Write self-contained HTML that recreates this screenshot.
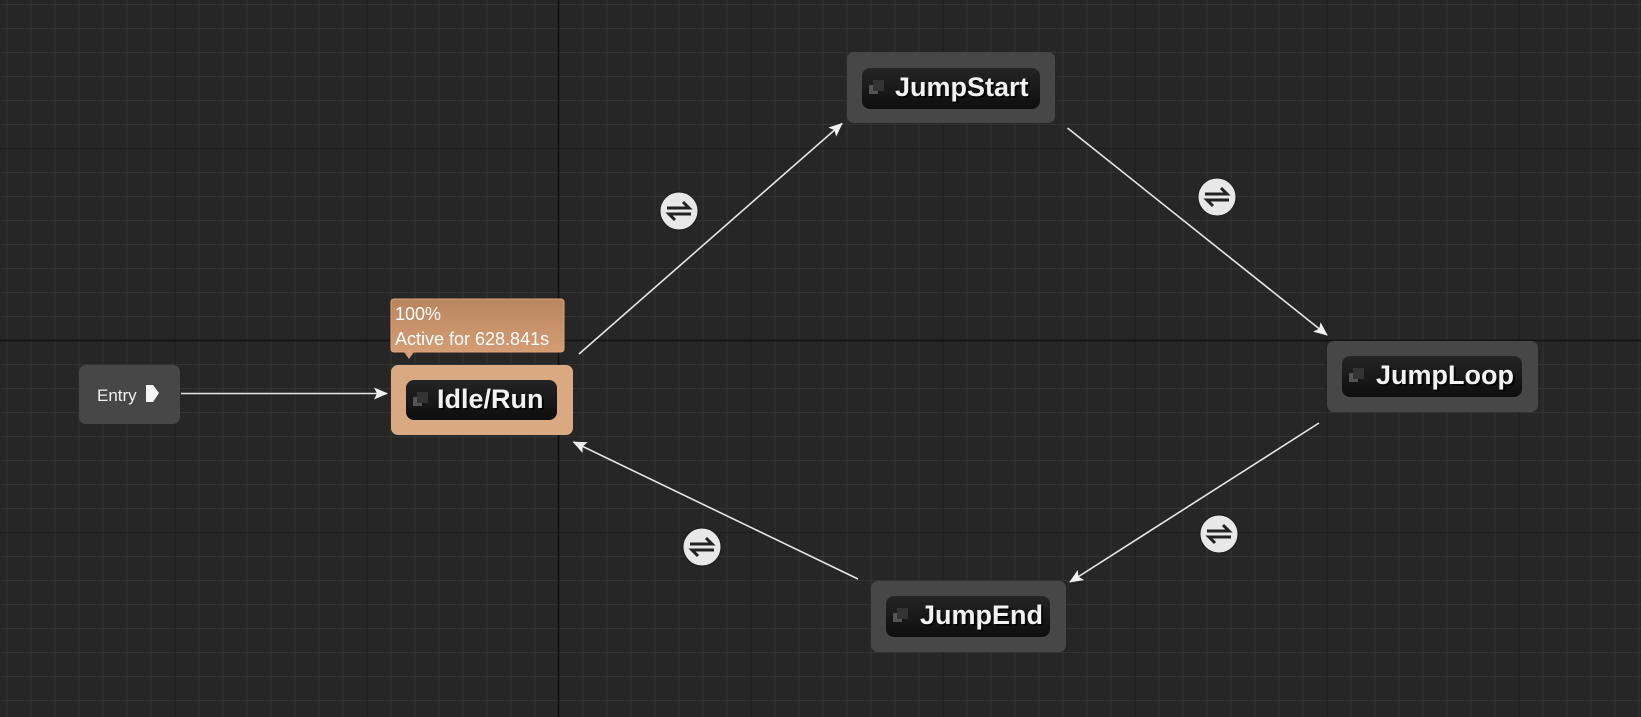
<!DOCTYPE html>
<html><head><meta charset="utf-8"><style>
html,body{margin:0;padding:0;background:#262626;}
svg{display:block}
</style></head><body>
<svg width="1641" height="717" viewBox="0 0 1641 717" xmlns="http://www.w3.org/2000/svg" font-family="Liberation Sans, sans-serif">
<defs>
<pattern id="minor" x="6.5" y="4" width="24" height="24" patternUnits="userSpaceOnUse">
<path d="M0.5 0V24M0 0.5H24" stroke="#343434" stroke-width="1" fill="none"/>
</pattern>
<pattern id="major" x="174.5" y="148" width="192" height="192" patternUnits="userSpaceOnUse">
<path d="M0.5 0V192M0 0.5H192" stroke="#1c1c1c" stroke-width="1" fill="none"/>
</pattern>
<linearGradient id="pill" x1="0" y1="0" x2="0" y2="1"><stop offset="0" stop-color="#242424"/><stop offset="1" stop-color="#0e0e0e"/></linearGradient>
<linearGradient id="tip" x1="0" y1="0" x2="0" y2="1"><stop offset="0" stop-color="#b98560"/><stop offset="1" stop-color="#d49d74"/></linearGradient>
<marker id="ar" markerWidth="14" markerHeight="12" refX="13" refY="6" orient="auto" markerUnits="userSpaceOnUse"><path d="M0 0L14 6L0 12L3 6Z" fill="#f0f0f0"/></marker>
<g id="tr"><circle r="19" fill="#e8e8e8" stroke="#1a1a1a" stroke-width="1"/><path d="M-12 -3H10L4 -9M12 3H-10L-4 9" stroke="#222" stroke-width="3" fill="none"/></g>
</defs>
<rect width="1641" height="717" fill="#262626"/>
<rect width="1641" height="717" fill="url(#minor)"/>
<rect width="1641" height="717" fill="url(#major)"/>
<path d="M558.5 0V717M0 340.5H1641" stroke="#111" stroke-width="1.5"/>

<g stroke="#e6e6e6" stroke-width="1.6" fill="none" marker-end="url(#ar)">
<line x1="181" y1="393.5" x2="387" y2="393.5"/>
<line x1="579" y1="354" x2="842" y2="123.5"/>
<line x1="1067.5" y1="128" x2="1327" y2="335"/>
<line x1="1319" y1="423" x2="1070" y2="582"/>
<line x1="858" y1="579" x2="573.5" y2="442"/>
</g>
<use href="#tr" x="679" y="211"/>
<use href="#tr" x="1217" y="197"/>
<use href="#tr" x="1219" y="534"/>
<use href="#tr" x="702" y="547"/>

<!-- Entry -->
<rect x="79" y="365" width="101" height="59" rx="7" fill="#474747"/>
<text x="97" y="401" font-size="17" fill="#f0f0f0">Entry</text>
<path d="M146 385H153L159 393L153 402H146Z" fill="#f5f5f5"/>

<!-- Tooltip -->
<rect x="391" y="299" width="173" height="53" rx="3" fill="url(#tip)" stroke="#e0a47a"/>
<path d="M404 352L409 359L414 352Z" fill="#d49d74"/>
<text x="395" y="320" font-size="18" fill="#fff">100%</text>
<text x="395" y="345" font-size="18" fill="#fff">Active for 628.841s</text>

<!-- Idle/Run -->
<rect x="391" y="365" width="182" height="70" rx="7" fill="#d9a982"/>
<rect x="406" y="380" width="151" height="40" rx="8" fill="url(#pill)"/>
<rect x="413" y="397" width="9" height="9" fill="#555"/><rect x="417" y="392" width="11" height="11" fill="#333"/>
<text x="439" y="410" font-size="27" font-weight="bold" fill="#050505">Idle/Run</text>
<text x="437" y="408" font-size="27" font-weight="bold" fill="#f2f2f2">Idle/Run</text>

<!-- JumpStart -->
<rect x="847" y="52" width="208" height="71" rx="7" fill="#474747"/>
<rect x="862" y="68" width="178" height="41" rx="8" fill="url(#pill)"/>
<rect x="869" y="85" width="9" height="9" fill="#555"/><rect x="873" y="80" width="11" height="11" fill="#333"/>
<text x="897" y="98" font-size="27" font-weight="bold" fill="#050505">JumpStart</text>
<text x="895" y="96" font-size="27" font-weight="bold" fill="#f2f2f2">JumpStart</text>

<!-- JumpLoop -->
<rect x="1327" y="341" width="211" height="71" rx="7" fill="#474747"/>
<rect x="1342" y="356" width="180" height="41" rx="8" fill="url(#pill)"/>
<rect x="1349" y="373" width="9" height="9" fill="#555"/><rect x="1353" y="368" width="11" height="11" fill="#333"/>
<text x="1378" y="386" font-size="27" font-weight="bold" fill="#050505">JumpLoop</text>
<text x="1376" y="384" font-size="27" font-weight="bold" fill="#f2f2f2">JumpLoop</text>

<!-- JumpEnd -->
<rect x="871" y="581" width="195" height="71" rx="7" fill="#474747"/>
<rect x="886" y="596" width="164" height="41" rx="8" fill="url(#pill)"/>
<rect x="893" y="613" width="9" height="9" fill="#555"/><rect x="897" y="608" width="11" height="11" fill="#333"/>
<text x="922" y="626" font-size="27" font-weight="bold" fill="#050505">JumpEnd</text>
<text x="920" y="624" font-size="27" font-weight="bold" fill="#f2f2f2">JumpEnd</text>
</svg>
</body></html>
